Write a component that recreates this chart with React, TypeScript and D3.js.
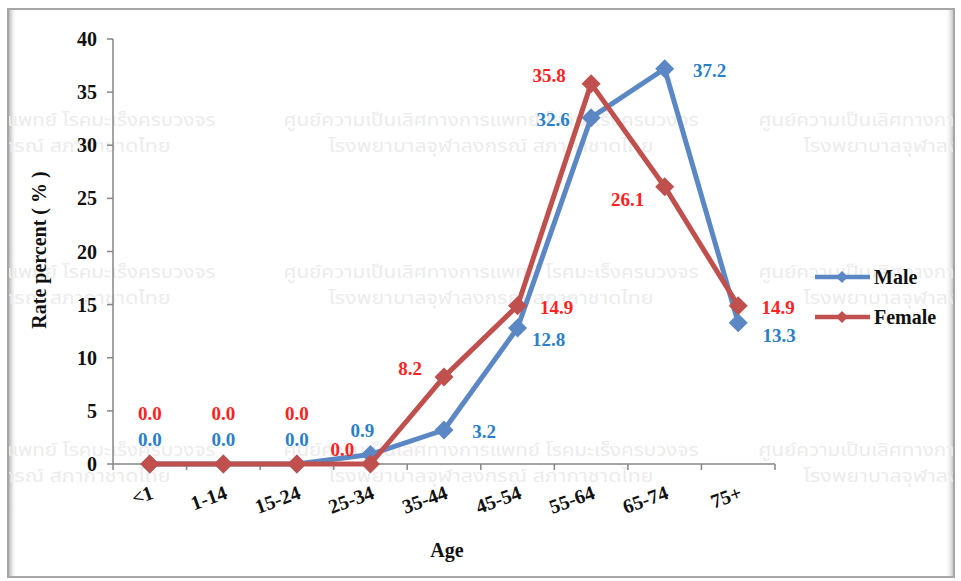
import React from "react";
import * as d3 from "d3";

const categories = ["<1", "1-14", "15-24", "25-34", "35-44", "45-54", "55-64", "65-74", "75+"];
const maleValues = [0, 0, 0, 0.9, 3.2, 12.8, 32.6, 37.2, 13.3];
const femaleValues = [0, 0, 0, 0, 8.2, 14.9, 35.8, 26.1, 14.9];
const yTicks = [0, 5, 10, 15, 20, 25, 30, 35, 40];
const seriesNames = ["Male", "Female"];
// label placement per point: [dx, dy] offsets relative to point
const maleLabelPos: [number, number][] = [[0, -18], [0, -18], [0, -18], [-8, -17], [40, 8], [31, 18], [-38, 8], [45, 8], [41, 19]];
const femaleLabelPos: [number, number][] = [[0, -44], [0, -44], [0, -44], [-28, -8], [-34, -2], [39, 8], [-42, -2], [-37, 19], [40, 8]];
const watermark1 = "ศูนย์ความเป็นเลิศทางการแพทย์ โรคมะเร็งครบวงจร";
const watermark2 = "โรงพยาบาลจุฬาลงกรณ์ สภากาชาดไทย";

const W = 961, H = 581;
const M = { left: 113, right: 775, top: 39, bottom: 464 };
const maleColor = "#5b87c4";
const femaleColor = "#c0504d";
const maleText = "#2a80c8";
const femaleText = "#ff2222";
const font = "'Liberation Serif', 'Times New Roman', serif";

export default function App() {
  const x = d3.scaleBand().domain(categories).range([M.left, M.right]);
  const y = d3.scaleLinear().domain([0, 40]).range([M.bottom, M.top]);
  const cx = (c: string) => (x(c) as number) + x.bandwidth() / 2;
  const line = d3.line<[string, number]>().x(d => cx(d[0])).y(d => y(d[1]));
  const maleData = categories.map((c, i) => [c, maleValues[i]] as [string, number]);
  const femaleData = categories.map((c, i) => [c, femaleValues[i]] as [string, number]);
  const diamond = (px: number, py: number, r: number) => `M${px},${py - r}L${px + r},${py}L${px},${py + r}L${px - r},${py}Z`;
  const wmCols = [8, 491, 966];
  const wmRows = [120, 272, 450];
  const boundaries = d3.range(categories.length + 1).map(i => M.left + i * x.step());

  return (
    <svg width={W} height={H} style={{ position: "absolute", left: 0, top: 0 }}>
      <defs>
        <linearGradient id="lsh" x1="0" x2="1">
          <stop offset="0" stopColor="#b8b8b8" />
          <stop offset="1" stopColor="#ffffff" stopOpacity="0" />
        </linearGradient>
        <linearGradient id="rsh" x1="1" x2="0">
          <stop offset="0" stopColor="#c8c8c8" />
          <stop offset="1" stopColor="#ffffff" stopOpacity="0" />
        </linearGradient>
        <clipPath id="frame"><rect x={9} y={10} width={944} height={566} /></clipPath>
      </defs>
      <rect x={0} y={0} width={W} height={H} fill="#ffffff" />
      <rect x={8} y={9} width={946} height={568} fill="#ffffff" stroke="#a6a6a6" strokeWidth={2} />
      <rect x={9} y={10} width={8} height={566} fill="url(#lsh)" />
      <rect x={945} y={10} width={8} height={566} fill="url(#rsh)" />
      <g clipPath="url(#frame)" fill="#ececec" fontFamily="'Noto Sans Thai', 'Noto Sans', 'DejaVu Sans', sans-serif" fontSize={17} textAnchor="middle">
        {wmRows.map(ry => wmCols.map(wx => (
          <g key={`${ry}-${wx}`}>
            <text x={wx} y={ry + 6} textLength={415} lengthAdjust="spacingAndGlyphs">{watermark1}</text>
            <text x={wx} y={ry + 32} textLength={325} lengthAdjust="spacingAndGlyphs">{watermark2}</text>
          </g>
        )))}
      </g>
      {/* axes */}
      <line x1={M.left} x2={M.left} y1={M.top} y2={M.bottom} stroke="#868686" strokeWidth={1.5} />
      <line x1={M.left} x2={M.right} y1={M.bottom} y2={M.bottom} stroke="#868686" strokeWidth={1.5} />
      {yTicks.map(t => (
        <g key={t}>
          <line x1={M.left - 6} x2={M.left} y1={y(t)} y2={y(t)} stroke="#868686" strokeWidth={1.5} />
          <text x={97} y={y(t) + 7} textAnchor="end" fontFamily={font} fontWeight="bold" fontSize={20} fill="#111">{t}</text>
        </g>
      ))}
      {boundaries.map((bx, i) => (
        <line key={i} x1={bx} x2={bx} y1={M.bottom} y2={M.bottom + 6} stroke="#868686" strokeWidth={1.5} />
      ))}
      {categories.map(c => (
        <text key={c} transform={`translate(${cx(c) + 5},${M.bottom + 34}) rotate(-20)`} textAnchor="end" fontFamily={font} fontWeight="bold" fontSize={20} fill="#111">{c}</text>
      ))}
      <text transform={`translate(46,250) rotate(-90)`} textAnchor="middle" fontFamily={font} fontWeight="bold" fontSize={20} fill="#111">Rate percent ( % )</text>
      <text x={447} y={557} textAnchor="middle" fontFamily={font} fontWeight="bold" fontSize={20} fill="#111">Age</text>
      {/* lines */}
      <path d={line(maleData) || ""} fill="none" stroke={maleColor} strokeWidth={5} strokeLinejoin="round" />
      {maleData.map((d, i) => <path key={i} d={diamond(cx(d[0]), y(d[1]), 9.5)} fill={maleColor} />)}
      <path d={line(femaleData) || ""} fill="none" stroke={femaleColor} strokeWidth={5} strokeLinejoin="round" />
      {femaleData.map((d, i) => <path key={i} d={diamond(cx(d[0]), y(d[1]), 9.5)} fill={femaleColor} />)}
      {/* labels */}
      {maleData.map((d, i) => (
        <text key={i} x={cx(d[0]) + maleLabelPos[i][0]} y={y(d[1]) + maleLabelPos[i][1]} textAnchor="middle" fontFamily={font} fontWeight="bold" fontSize={19} fill={maleText}>{d[1].toFixed(1)}</text>
      ))}
      {femaleData.map((d, i) => (
        <text key={i} x={cx(d[0]) + femaleLabelPos[i][0]} y={y(d[1]) + femaleLabelPos[i][1]} textAnchor="middle" fontFamily={font} fontWeight="bold" fontSize={19} fill={femaleText}>{d[1].toFixed(1)}</text>
      ))}
      {/* legend */}
      {seriesNames.map((s, i) => {
        const ly = 277 + i * 40;
        const col = i === 0 ? maleColor : femaleColor;
        return (
          <g key={s}>
            <line x1={815} x2={870} y1={ly} y2={ly} stroke={col} strokeWidth={4.5} />
            <path d={diamond(842, ly, 6)} fill={col} />
            <text x={874} y={ly + 7} fontFamily={font} fontWeight="bold" fontSize={20} fill="#111">{s}</text>
          </g>
        );
      })}
    </svg>
  );
}
